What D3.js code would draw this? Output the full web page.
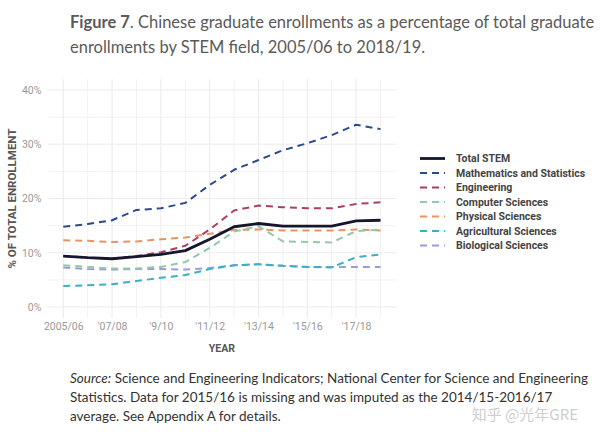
<!DOCTYPE html>
<html>
<head>
<meta charset="utf-8">
<script src="https://cdn.jsdelivr.net/npm/d3@7"></script>
<style>
  html, body { margin: 0; padding: 0; background: #fff; }
  svg { display: block; }
</style>
</head>
<body>
<svg id="chart" width="600" height="439"></svg>
<script>
// ---- data ----
const years = ["2005/06","2006/07","2007/08","2008/09","2009/10","2010/11","2011/12","2012/13","2013/14","2014/15","2015/16","2016/17","2017/18","2018/19"];
const tickLabels = ["2005/06","'07/08","'9/10","'11/12","'13/14","'15/16","'17/18"];
const tickIndex = [0, 2, 4, 6, 8, 10, 12];
const yTicks = [0, 10, 20, 30, 40];
const seriesNames = ["Total STEM","Mathematics and Statistics","Engineering","Computer Sciences","Physical Sciences","Agricultural Sciences","Biological Sciences"];
const totalStem   = [9.4, 9.1, 8.9, 9.3, 9.7, 10.4, 12.5, 14.8, 15.4, 14.9, 14.9, 14.9, 15.9, 16.0];
const mathStats   = [14.8, 15.3, 16.0, 17.9, 18.2, 19.2, 22.5, 25.3, 27.1, 28.9, 30.2, 31.7, 33.6, 32.8];
const engineering = [9.4, 9.1, 8.9, 9.4, 10.1, 11.3, 14.3, 17.8, 18.7, 18.4, 18.2, 18.2, 19.0, 19.3];
const computerSci = [7.7, 7.4, 7.1, 7.1, 7.4, 8.3, 10.9, 13.9, 14.9, 12.1, 12.0, 11.9, 14.0, 14.3];
const physicalSci = [12.3, 12.2, 12.0, 12.1, 12.5, 12.8, 13.5, 14.2, 14.3, 14.1, 14.1, 14.1, 14.3, 14.1];
const agriculture = [3.9, 4.0, 4.2, 4.8, 5.4, 5.9, 7.0, 7.7, 7.9, 7.6, 7.4, 7.3, 9.2, 9.7];
const biological  = [7.3, 7.0, 6.9, 7.0, 7.0, 6.9, 7.2, 7.7, 7.9, 7.6, 7.4, 7.4, 7.4, 7.4];
const seriesValues = [totalStem, mathStats, engineering, computerSci, physicalSci, agriculture, biological];
const seriesColors = ["#15172e","#2c4a8c","#a8405e","#8fcaa9","#ec9260","#3aafc6","#9b9bd9"];

// ---- layout ----
const svg = d3.select("#chart");
const x = d3.scaleLinear().domain([-0.65, 13.65]).range([47.4, 396.4]);
const y = d3.scaleLinear().domain([-2, 42]).range([317.9, 79.2]);

// title
const titleFont = "Lato, 'Open Sans', sans-serif";
const title = svg.append("text").attr("x", 70).attr("y", 28)
  .style("font-family", titleFont).style("font-size", "16.5px").attr("fill", "#5a5a5a");
title.append("tspan").style("font-weight", "bold").text("Figure 7");
title.append("tspan").text(". Chinese graduate enrollments as a percentage of total graduate");
svg.append("text").attr("x", 70).attr("y", 53)
  .style("font-family", titleFont).style("font-size", "16.5px").attr("fill", "#5a5a5a")
  .text("enrollments by STEM field, 2005/06 to 2018/19.");

// gridlines
const g = svg.append("g");
const gridColor = "#ececec";
d3.range(0, 14).forEach(i => {
  g.append("line").attr("x1", x(i)).attr("x2", x(i)).attr("y1", y(42)).attr("y2", y(-2))
    .attr("stroke", gridColor).attr("stroke-width", i % 2 === 0 ? 1.1 : 0.7);
});
d3.range(0, 41, 5).forEach(v => {
  g.append("line").attr("x1", x(-0.65)).attr("x2", x(13.65)).attr("y1", y(v)).attr("y2", y(v))
    .attr("stroke", gridColor).attr("stroke-width", v % 10 === 0 ? 1.1 : 0.7);
});

// axes (labels only)
const yAxis = d3.axisLeft(y).tickValues(yTicks).tickFormat(d => d + "%").tickSize(0).tickPadding(6);
const yg = svg.append("g").attr("transform", `translate(${x(-0.65)},0)`).call(yAxis);
yg.select(".domain").remove();
yg.selectAll("text").style("font-family", "Roboto, sans-serif").style("font-size", "10.5px").attr("fill", "#999");

const xAxis = d3.axisBottom(x).tickValues(tickIndex).tickFormat((d, i) => tickLabels[i]).tickSize(0).tickPadding(5);
const xg = svg.append("g").attr("transform", `translate(0,${y(-2)})`).call(xAxis);
xg.select(".domain").remove();
xg.selectAll("text").style("font-family", "Roboto, sans-serif").style("font-size", "10.5px").attr("fill", "#999");

// axis titles
svg.append("text").attr("x", (x(-0.65) + x(13.65)) / 2).attr("y", 352).attr("text-anchor", "middle")
  .style("font-family", "Roboto, sans-serif").style("font-size", "10.5px").style("font-weight", "bold")
  .attr("fill", "#555").text("YEAR");
svg.append("text").attr("transform", `translate(16,${(y(42) + y(-2)) / 2}) rotate(-90)`).attr("text-anchor", "middle")
  .style("font-family", "Roboto, sans-serif").style("font-size", "11.5px").style("font-weight", "bold")
  .attr("fill", "#555").text("% OF TOTAL ENROLLMENT");

// lines (draw back to front: Total STEM on top)
const line = d3.line().x((d, i) => x(i)).y(d => y(d));
const order = [6, 5, 4, 3, 2, 1, 0];
order.forEach(k => {
  svg.append("path").datum(seriesValues[k]).attr("d", line)
    .attr("fill", "none").attr("stroke", seriesColors[k])
    .attr("stroke-width", k === 0 ? 2.8 : 2)
    .attr("stroke-dasharray", k === 0 ? null : "7,5")
    .attr("stroke-linejoin", "round");
});

// legend
const lg = svg.append("g");
seriesNames.forEach((name, k) => {
  const yy = 158.5 + k * 14.5;
  lg.append("line").attr("x1", 420).attr("x2", 445).attr("y1", yy).attr("y2", yy)
    .attr("stroke", seriesColors[k]).attr("stroke-width", k === 0 ? 2.8 : 2)
    .attr("stroke-dasharray", k === 0 ? null : "7,5");
  lg.append("text").attr("x", 456).attr("y", yy).attr("dy", "0.35em")
    .style("font-family", "Roboto, sans-serif").style("font-size", "10.5px").style("font-weight", "bold")
    .attr("fill", "#444").text(name);
});

// source note
const srcFont = "Lato, 'Open Sans', sans-serif";
const s1 = svg.append("text").attr("x", 70).attr("y", 383).style("font-family", srcFont).style("font-size", "13.5px").attr("fill", "#333");
s1.append("tspan").style("font-style", "italic").text("Source:");
s1.append("tspan").text(" Science and Engineering Indicators; National Center for Science and Engineering");
svg.append("text").attr("x", 70).attr("y", 402).style("font-family", srcFont).style("font-size", "13.5px").attr("fill", "#333")
  .text("Statistics. Data for 2015/16 is missing and was imputed as the 2014/15-2016/17");
svg.append("text").attr("x", 70).attr("y", 421).style("font-family", srcFont).style("font-size", "13.5px").attr("fill", "#333")
  .text("average. See Appendix A for details.");

// watermark
svg.append("text").attr("x", 578).attr("y", 420).attr("text-anchor", "end")
  .style("font-family", "'Noto Sans CJK SC', sans-serif").style("font-size", "15px").attr("fill", "#cfcfcf")
  .text("知乎 @光年GRE");
</script>
</body>
</html>
